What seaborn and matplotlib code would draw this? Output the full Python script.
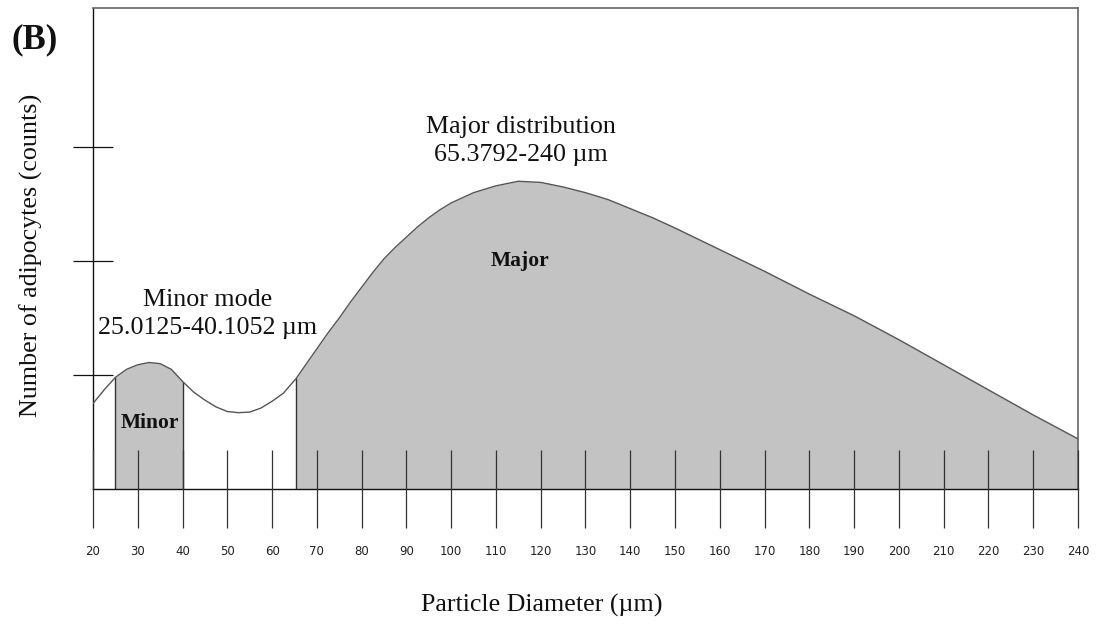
import numpy as np
import pandas as pd
import matplotlib
matplotlib.use("Agg")
import matplotlib.pyplot as plt
import seaborn as sns

# Particle size distribution curve (diameter in µm, relative counts)
diameter = [20, 22.5, 25.0125, 27.5, 30, 32.5, 35, 37.5, 40.1052, 42.5, 45, 47.5,
            50, 52.5, 55, 57.5, 60, 62.5, 65.3792, 67.5, 70, 72.5, 75, 77.5, 80,
            82.5, 85, 87.5, 90, 92.5, 95, 97.5, 100, 105, 110, 115, 120, 125, 130,
            135, 140, 145, 150, 160, 170, 180, 190, 200, 210, 220, 230, 240]
counts = [0.75, 0.87, 0.98, 1.05, 1.09, 1.11, 1.10, 1.05, 0.94, 0.85, 0.78, 0.72,
          0.68, 0.67, 0.675, 0.71, 0.77, 0.84, 0.97, 1.09, 1.23, 1.37, 1.50, 1.64, 1.77,
          1.90, 2.02, 2.12, 2.21, 2.30, 2.38, 2.45, 2.51, 2.60, 2.66, 2.70, 2.69, 2.65, 2.60,
          2.54, 2.46, 2.38, 2.29, 2.10, 1.91, 1.71, 1.52, 1.31, 1.09, 0.87, 0.65, 0.44]

# Shaded ranges
minor_range = [25.0125, 40.1052]
major_range = [65.3792, 240]

x_ticks = list(range(20, 241, 10))
y_ticks = [1, 2, 3]

df = pd.DataFrame({"diameter": diameter, "counts": counts})

sns.set_theme(style="white")
plt.rcParams["font.family"] = ["Liberation Serif", "DejaVu Serif"]

fig = plt.figure(figsize=(10.99, 6.26), dpi=100)
ax = fig.add_axes([0.0846, 0.2188, 0.8963, 0.7684])
ax.set_axisbelow(False)

xs = df["diameter"].to_numpy()
ys = df["counts"].to_numpy()
fill_color = "#c3c3c3"
for lo, hi in (minor_range, major_range):
    m = (xs >= lo) & (xs <= hi)
    ax.fill_between(xs[m], 0, ys[m], color=fill_color, linewidth=0, zorder=1)
    ax.vlines([lo], 0, ys[m][0], color="#333333", linewidth=1.0, zorder=3)
m_minor = (xs >= minor_range[0]) & (xs <= minor_range[1])
ax.vlines([minor_range[1]], 0, ys[m_minor][-1], color="#333333", linewidth=1.0, zorder=3)

sns.lineplot(data=df, x="diameter", y="counts", ax=ax, color="#555555",
             linewidth=1.0, zorder=4)

ax.set_xlim(20, 240)
ax.set_ylim(0, 4.22)

ax.set_xticks(x_ticks)
ax.set_xticklabels([str(t) for t in x_ticks], family="DejaVu Sans",
                   fontsize=8.5, color="#222222")
ax.set_yticks(y_ticks)
ax.set_yticklabels([])
ax.tick_params(axis="x", direction="inout", length=56, width=0.9,
               color="#333333", pad=12, bottom=True)
ax.tick_params(axis="y", direction="inout", length=29.5, width=0.9,
               color="#111111", left=True)

for side in ("left", "bottom"):
    ax.spines[side].set_color("#111111")
    ax.spines[side].set_linewidth(1.0)
for side in ("top", "right"):
    ax.spines[side].set_color("#666666")
    ax.spines[side].set_linewidth(1.2)

ax.set_xlabel("Particle Diameter (µm)", fontsize=18.7, color="#111111")
ax.xaxis.set_label_coords(0.456, -0.243)
ax.xaxis.label.set_va("center")
ax.set_ylabel("Number of adipocytes (counts)", fontsize=18.7, color="#111111")
ax.yaxis.set_label_coords(-0.063, 0.486)
ax.yaxis.label.set_va("center")

ax.text(115.6, 3.05, "Major distribution\n65.3792-240 µm", ha="center", va="center",
        fontsize=18.7, color="#111111", linespacing=1.35)
ax.text(45.5, 1.535, "Minor mode\n25.0125-40.1052 µm", ha="center", va="center",
        fontsize=18.7, color="#111111", linespacing=1.35)
ax.text(115.4, 2.0, "Major", ha="center", va="center", fontsize=15.5,
        fontweight="bold", color="#111111")
ax.text(32.7, 0.58, "Minor", ha="center", va="center", fontsize=15.5,
        fontweight="bold", color="#111111")

fig.text(0.0318, 0.937, "(B)", ha="center", va="center", fontsize=25,
         fontweight="bold", color="#111111")

fig.savefig("out.png", dpi=100, facecolor="white")
